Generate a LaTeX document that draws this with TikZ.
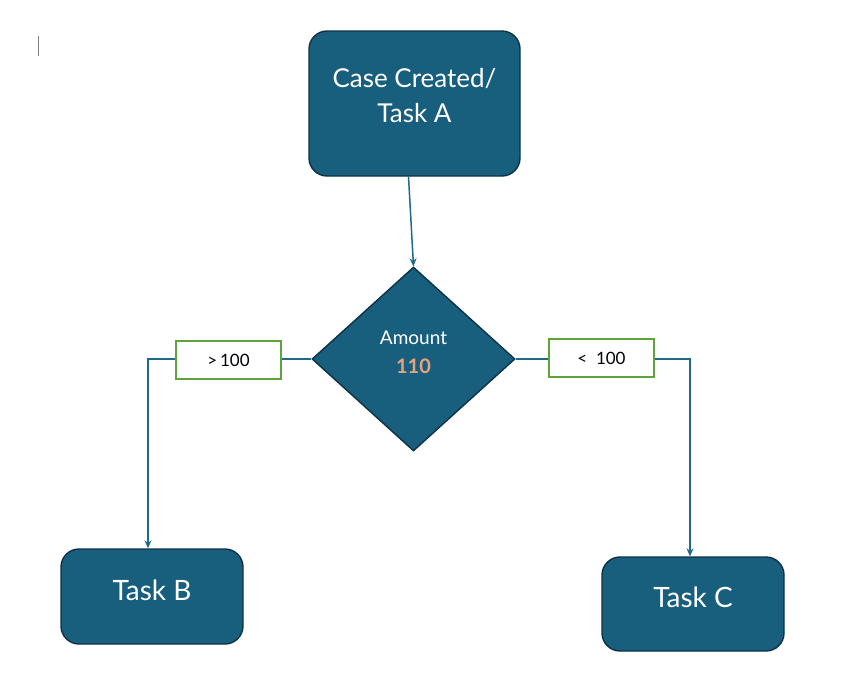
\documentclass[tikz,border=0pt]{standalone}
\usepackage{fontspec}
\setmainfont{Lato}
\usetikzlibrary{positioning,arrows.meta,shapes.geometric}
\definecolor{taskfill}{HTML}{185E7D}
\definecolor{taskedge}{HTML}{0D3247}
\definecolor{flowline}{HTML}{1E6A87}
\definecolor{condedge}{HTML}{5FA33A}
\definecolor{amountval}{HTML}{E9A27E}

\begin{document}
\begin{tikzpicture}[x=1pt, y=-1pt, thick, >={Stealth[length=8pt,width=7pt]}]
% Definition of blocks:
\tikzset{%
  task/.style     = {draw=taskedge, line width=1.4pt, fill=taskfill, text=white, rounded corners=18pt, align=center, font=\fontsize{26}{35}\selectfont},
  decision/.style = {draw=taskedge, line width=1.4pt, fill=taskfill, text=white, diamond, inner sep=0pt, align=center, minimum width=203pt, minimum height=184pt, font=\fontsize{19}{24}\selectfont},
  cond/.style     = {draw=condedge, line width=1.5pt, fill=white, minimum width=105pt, minimum height=38pt, font=\fontsize{17}{20}\selectfont},
  flow/.style     = {draw=flowline, line width=1.5pt}
}
\useasboundingbox (0,0) rectangle (842,697);
\draw[gray, line width=0.8pt] (38,36) -- (38,56); % cursor mark
\draw
	node [task, minimum width=211pt, minimum height=145pt] (taskA) at (414.5,103.5) {Case Created/\\Task A\\[-19pt]\mbox{}}
	node [decision, text depth=14pt] (amount) at (413.5,359) {Amount\\[5pt]{\color{amountval}\bfseries\fontsize{20}{24}\selectfont 110}}
	node [cond] (gt) at (228.5,360) {>\,100}
	node [cond] (lt) at (601.5,358) {<\ \ 100}
	node [task, minimum width=182pt, minimum height=95pt, font=\fontsize{28}{35}\selectfont] (taskB) at (152,596.5) {Task B\\[-22pt]\mbox{}}
	node [task, minimum width=182pt, minimum height=94pt, font=\fontsize{28}{35}\selectfont] (taskC) at (693,604) {Task C\\[-21pt]\mbox{}};

	\draw[flow, ->] ([xshift=-6pt]taskA.south) -- (amount.north);
	\draw[flow] (amount.west) -- (amount.west -| gt.east);
	\draw[flow, ->] (gt.west |- amount.west) -| ([xshift=-4pt]taskB.north);
	\draw[flow] (amount.east) -- (amount.east -| lt.west);
	\draw[flow, ->] (lt.east |- amount.east) -| ([xshift=-3pt]taskC.north);
	%
\end{tikzpicture}
\end{document}
